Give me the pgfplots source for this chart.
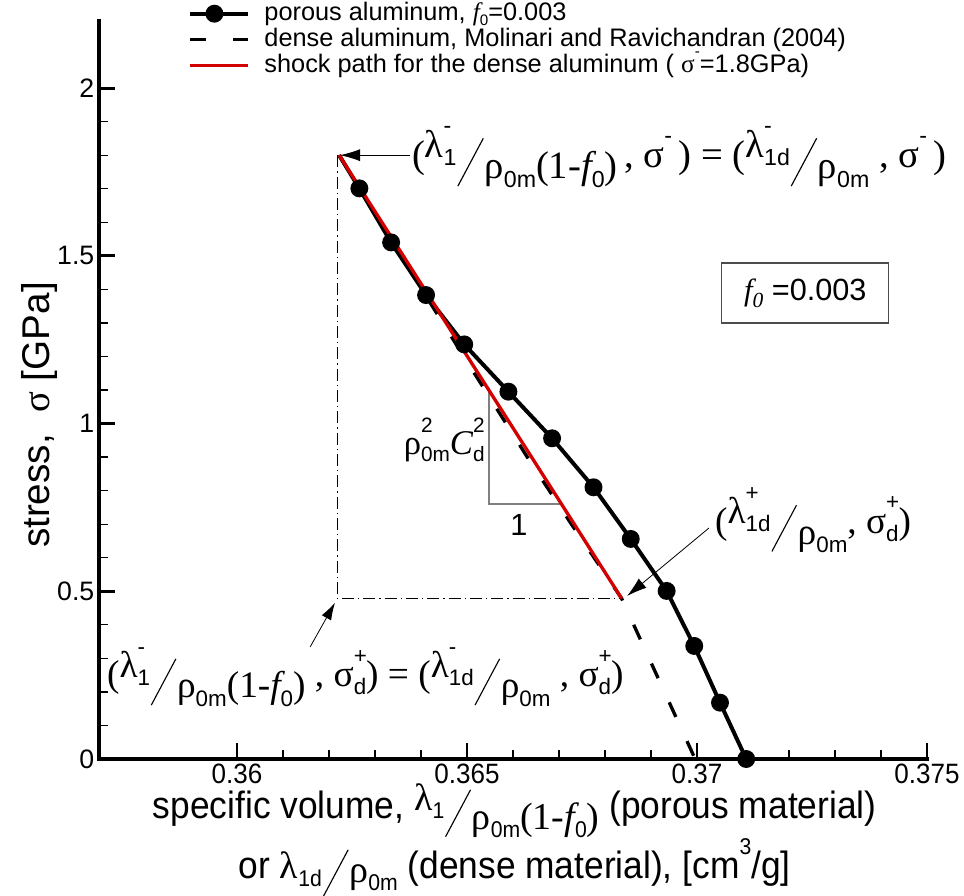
\documentclass[border=0pt]{standalone}
\usepackage{fontspec}
\setmainfont{Liberation Sans}
\newfontfamily\grk{Liberation Serif}
\newfontfamily\cond[FakeStretch=0.93]{Liberation Sans}
\usepackage{graphicx}
\usepackage{pgfplots}
\pgfplotsset{compat=1.18}
\usetikzlibrary{arrows.meta}
\definecolor{myred}{RGB}{210,0,0}
\newcommand{\Sup}[1]{\raisebox{0.62em}{\scalebox{0.6}{#1}}}
\newcommand{\Sub}[1]{\raisebox{-0.22em}{\scalebox{0.6}{#1}}}
\newcommand{\SupSub}[2]{\makebox[0pt][l]{\Sup{#1}}\Sub{#2}}
\newcommand{\Sl}{\kern0.02em\raisebox{-0.5em}{\rotatebox{62}{\rule{1.4em}{0.03em}}}\kern0.02em}
\newcommand{\fz}{{\grk\itshape f}\Sub{0}}
\begin{document}
\begin{tikzpicture}
\path[use as bounding box] (-74.25pt,-102.75pt) rectangle (648.75pt,569.25pt);
\begin{axis}[
  scale only axis, width=621pt, height=553.5pt,
  xmin=0.357, xmax=0.375, ymin=0, ymax=2.2,
  axis x line*=bottom, axis y line*=left,
  axis line style={line width=3pt, -},
  xtick={0.36,0.365,0.37,0.375}, xticklabels={0.36,0.365,0.37,0.375},
  ytick={0,0.5,1,1.5,2}, yticklabels={0,0.5,1,1.5,2},
  minor x tick num=4, minor y tick num=4,
  tick align=inside,
  major tick length=12pt, minor tick length=6.5pt,
  tick style={line width=2.2pt, black},
  minor tick style={line width=1pt, black},
  x tick label style={font=\cond\fontsize{21}{24}\selectfont},
  y tick label style={font=\fontsize{20}{24}\selectfont},
  xlabel={specific volume, \raisebox{0.2em}{{\grk λ}\Sub{1}}\Sl\raisebox{-0.3em}{{\grk ρ}\Sub{0m}{\grk(1-}\fz{\grk)}} (porous material)\\ or {\grk λ}\Sub{1d}\Sl\raisebox{-0.12em}{{\grk ρ}\Sub{0m}} (dense material), [cm\Sup{3}/g]},
  xlabel style={font=\cond\fontsize{28.5}{45}\selectfont, align=center, at={(axis description cs:0.502,0)}, anchor=center, yshift=-61pt},
  ylabel={stress,\ \ {\grk σ} [GPa]},
  ylabel style={font=\fontsize{29}{32}\selectfont, at={(axis description cs:-0.0713,0.466)}, anchor=center},
  clip=false,
  legend style={at={(axis description cs:0.108,1.0257)}, anchor=north west, draw=none, fill=none,
    inner sep=0pt, outer sep=0pt, font=\fontsize{19}{21}\selectfont, row sep=2pt,
    nodes={inner sep=0pt, text height=13.5pt, text depth=4pt},
    /tikz/every odd column/.append style={column sep=11pt}, cells={anchor=west}},
  legend image code/.code={\draw[#1] (0pt,0pt) -- (43pt,0pt);},
]
% guide lines
\draw[black, line width=0.6pt, dash pattern=on 9pt off 3pt on 1pt off 3pt] (axis cs:0.36218,1.8) -- (axis cs:0.36218,0.479) -- (axis cs:0.36836,0.479);
\draw[gray, line width=1.2pt] (axis cs:0.36548,1.1045) -- (axis cs:0.36548,0.761) -- (axis cs:0.367075,0.761);

\addplot[black, line width=3pt, mark=*, mark size=5.2pt, mark indices={2,3,4,5,6,7,8,9,10,11,12,13},
  legend image code/.code={\draw[black,line width=3pt] (0pt,0pt) -- (43pt,0pt); \fill[black] (18pt,0pt) circle[radius=5.2pt];}] coordinates {
(0.36222,1.8) (0.36266,1.701) (0.36335,1.540) (0.36411,1.383) (0.36494,1.236)
(0.36590,1.095) (0.36685,0.956) (0.36775,0.810) (0.36856,0.656) (0.36934,0.501)
(0.36994,0.337) (0.37050,0.168) (0.37107,0)};
\addlegendentry{porous aluminum, \fz=0.003}
\addplot[black, line width=2.5pt, dash pattern=on 12pt off 20pt] coordinates {
(0.36222,1.8) (0.36356,1.5) (0.36493,1.2) (0.36631,0.9) (0.36727,0.7) (0.36836,0.479) (0.36996,0)};
\addlegendentry{dense aluminum, Molinari and Ravichandran (2004)}
\addplot[myred, line width=2.5pt] coordinates {(0.36222,1.8) (0.36836,0.479)};
\addlegendentry{shock path for the dense aluminum ( {\grk σ}\Sup{-}=1.8GPa)}

% heavy axis lines
\draw[line width=3pt, line cap=rect] (rel axis cs:0,1) -- (rel axis cs:0,0) -- (rel axis cs:1,0);

% arrows
\draw[-{Latex[length=15pt,width=9pt]}, line width=0.6pt] (axis cs:0.36376,1.8) -- (axis cs:0.36224,1.8);
\draw[-{Latex[length=13pt,width=8pt]}, line width=0.6pt] (axis cs:0.36159,0.334) -- (axis cs:0.36213,0.466);
\draw[-{Latex[length=15pt,width=9pt]}, line width=0.6pt] (axis cs:0.37026,0.6886) -- (axis cs:0.36848,0.4859);

% annotations
\node[anchor=west, inner sep=0pt, font=\fontsize{29}{33}\selectfont] at (axis cs:0.36380,1.795)
 {{\grk(}\raisebox{0.25em}{{\grk λ}\SupSub{-}{1}}\Sl\raisebox{-0.3em}{{\grk ρ}\Sub{0m}{\grk(1-}\fz{\grk)}}{\grk\,, σ}\Sup{-}{\grk\,) = (}\raisebox{0.25em}{{\grk λ}\SupSub{-}{1d}}\Sl\raisebox{-0.3em}{{\grk ρ}\Sub{0m}}{\grk\ , σ}\Sup{-}{\grk\,)}};
\node[anchor=west, inner sep=0pt, font=\fontsize{28}{32}\selectfont] at (axis cs:0.35717,0.245)
 {{\grk(}\raisebox{0.25em}{{\grk λ}\SupSub{-}{1}}\Sl\raisebox{-0.3em}{{\grk ρ}\Sub{0m}{\grk(1-}\fz{\grk)}}{\grk\ , σ}\SupSub{+}{d}{\grk) = (}\raisebox{0.25em}{{\grk λ}\SupSub{-}{1d}}\Sl\raisebox{-0.3em}{{\grk ρ}\Sub{0m}}{\grk\ , σ}\SupSub{+}{d}{\grk)}};
\node[anchor=west, inner sep=0pt, font=\fontsize{28}{32}\selectfont] at (axis cs:0.37039,0.712)
 {{\grk(}\raisebox{0.25em}{{\grk λ}\SupSub{+}{1d}}\Sl\raisebox{-0.3em}{{\grk ρ}\Sub{0m}}{\grk, σ}\SupSub{+}{d}{\grk)}};
\draw[line width=0.8pt, black!70] (axis cs:0.37054,1.4786) rectangle (axis cs:0.37417,1.2997);
\node[font=\fontsize{23}{26}\selectfont] at (axis cs:0.372355,1.389) {{\grk\itshape f}\raisebox{-0.22em}{\scalebox{0.7}{\grk\itshape 0}}\ =0.003};
\node[anchor=east, inner sep=0pt, font=\fontsize{26}{30}\selectfont] at (axis cs:0.36539,0.951) {{\grk ρ}\SupSub{2}{0m}{\grk\itshape C}\SupSub{2}{d}};
\node[font=\fontsize{23}{26}\selectfont] at (axis cs:0.36613,0.698) {1};
\end{axis}
\end{tikzpicture}
\end{document}
